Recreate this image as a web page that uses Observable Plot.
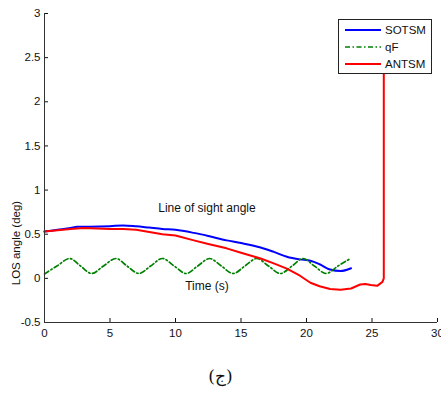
<!DOCTYPE html>
<html>
<head>
<meta charset="utf-8">
<script src="https://cdn.jsdelivr.net/npm/d3@7"></script>
<script src="https://cdn.jsdelivr.net/npm/@observablehq/plot@0.6"></script>
<style>
  html, body { margin: 0; padding: 0; background: #fff; }
  #wrap { position: relative; width: 441px; height: 398px; font-family: "Liberation Sans", Arial, sans-serif; }
  #legend { position: absolute; left: 338px; top: 19px; width: 94px; height: 55px; border: 1px solid #222; background: #fff; box-sizing: border-box; }
  #caption { position: absolute; left: 0; width: 441px; top: 366px; text-align: center; font-family: "DejaVu Serif", "Liberation Serif", serif; font-size: 17px; color: #111; }
</style>
</head>
<body>
<div id="wrap"></div>
<script>
const sotsmT = [0, 1, 2, 2.5, 3.5, 5, 6, 7, 8, 9, 10, 11.4, 12.5, 13.9, 15, 16.5, 17.5, 18.5, 19.5, 20.3, 21, 21.8, 22.6, 23.4];
const sotsmV = [0.53, 0.55, 0.57, 0.585, 0.585, 0.59, 0.6, 0.59, 0.575, 0.56, 0.55, 0.515, 0.48, 0.43, 0.40, 0.35, 0.30, 0.245, 0.215, 0.2, 0.16, 0.1, 0.083, 0.115];

const qfT = [0, 0.95, 1.93, 2.75, 3.6, 4.5, 5.45, 6.3, 7.2, 8.1, 9.0, 9.9, 10.8, 11.7, 12.6, 13.5, 14.4, 15.3, 16.2, 17.1, 18.0, 18.9, 19.75, 20.6, 21.5, 22.4, 23.3];
const qfV = [0.05, 0.14, 0.225, 0.14, 0.055, 0.14, 0.225, 0.14, 0.055, 0.14, 0.225, 0.14, 0.055, 0.14, 0.225, 0.14, 0.055, 0.14, 0.225, 0.14, 0.055, 0.14, 0.225, 0.14, 0.055, 0.14, 0.22];

const antsmT = [0, 1, 2, 3, 4, 5, 6, 7, 8, 9, 10, 11.4, 12.5, 13.9, 15, 16.5, 17.5, 18.5, 19.5, 20.3, 21, 21.8, 22.6, 23.4, 24.1, 24.5, 24.9, 25.4, 25.8, 25.9, 25.9];
const antsmV = [0.53, 0.545, 0.56, 0.57, 0.565, 0.56, 0.56, 0.55, 0.525, 0.5, 0.485, 0.43, 0.39, 0.34, 0.29, 0.225, 0.17, 0.11, 0.03, -0.05, -0.09, -0.12, -0.13, -0.115, -0.07, -0.065, -0.075, -0.085, -0.04, 0, 2.9];

const xTicks = [0, 5, 10, 15, 20, 25, 30];
const yTicks = [-0.5, 0, 0.5, 1, 1.5, 2, 2.5, 3];
const seriesNames = ["SOTSM", "qF", "ANTSM"];
const seriesColors = ["#0000ff", "#008000", "#ff0000"];
const yLabel = "LOS angle (deg)";
const annotations = [
  {t: 12.4, v: 0.79, text: "Line of sight angle"},
  {t: 12.4, v: -0.085, text: "Time (s)"}
];
const captionText = "(ج)";

const sotsm = sotsmT.map((t, i) => ({t, v: sotsmV[i]}));
const qf = qfT.map((t, i) => ({t, v: qfV[i]}));
const antsm = antsmT.map((t, i) => ({t, v: antsmV[i]}));

const font = "'Liberation Sans', Arial, sans-serif";

const chart = Plot.plot({
  width: 441,
  height: 345,
  marginLeft: 44,
  marginRight: 4,
  marginTop: 13,
  marginBottom: 23,
  style: {fontFamily: font, fontSize: "11.5px", color: "#111", background: "#fff"},
  x: {domain: [0, 30], ticks: xTicks, label: null},
  y: {domain: [-0.5, 3], ticks: yTicks, label: null},
  marks: [
    Plot.line(sotsm, {x: "t", y: "v", stroke: seriesColors[0], strokeWidth: 2, curve: "monotone-x"}),
    Plot.line(qf, {x: "t", y: "v", stroke: seriesColors[1], strokeWidth: 1.7, strokeDasharray: "5,2.5,1.5,2.5", curve: "monotone-x"}),
    Plot.line(antsm, {x: "t", y: "v", stroke: seriesColors[2], strokeWidth: 2, curve: "linear"}),
    Plot.text(annotations, {x: "t", y: "v", text: "text", fontSize: 12, fill: "#111"}),
    Plot.axisX({ticks: xTicks, tickSize: -4, tickPadding: 10, tickFormat: d => String(d), fontSize: 11.5, label: null}),
    Plot.axisY({ticks: yTicks, tickSize: -4, tickPadding: 8, tickFormat: d => String(d), fontSize: 11.5, label: null}),
    Plot.ruleX([0], {stroke: "#333"}),
    Plot.ruleY([-0.5], {stroke: "#333"}),
    Plot.text([yLabel], {frameAnchor: "left", y: 0.4, dx: -28, rotate: -90, textAnchor: "middle", fontSize: 11.5, fill: "#111"})
  ]
});

const wrap = document.getElementById("wrap");
wrap.appendChild(chart);

// legend
const legend = document.createElement("div");
legend.id = "legend";
const ns = "http://www.w3.org/2000/svg";
const lsvg = document.createElementNS(ns, "svg");
lsvg.setAttribute("width", 92);
lsvg.setAttribute("height", 53);
lsvg.style.display = "block";
seriesNames.forEach((name, i) => {
  const y = 10 + i * 17;
  const line = document.createElementNS(ns, "line");
  line.setAttribute("x1", 6); line.setAttribute("x2", 42);
  line.setAttribute("y1", y); line.setAttribute("y2", y);
  line.setAttribute("stroke", seriesColors[i]);
  line.setAttribute("stroke-width", i === 1 ? 1.7 : 2);
  if (i === 1) line.setAttribute("stroke-dasharray", "5,2.5,1.5,2.5");
  lsvg.appendChild(line);
  const txt = document.createElementNS(ns, "text");
  txt.setAttribute("x", 46); txt.setAttribute("y", y + 4);
  txt.setAttribute("font-size", 11.5);
  txt.setAttribute("fill", "#111");
  txt.setAttribute("font-family", font);
  txt.textContent = name;
  lsvg.appendChild(txt);
});
legend.appendChild(lsvg);
wrap.appendChild(legend);

const cap = document.createElement("div");
cap.id = "caption";
cap.textContent = captionText;
wrap.appendChild(cap);
</script>
</body>
</html>
